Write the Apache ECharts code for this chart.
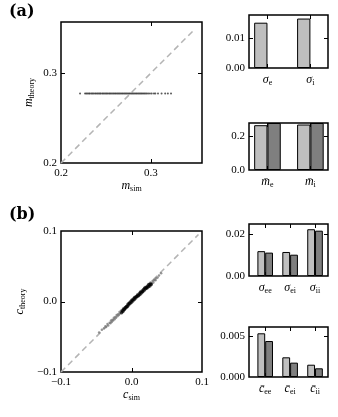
<!DOCTYPE html>
<html>
<head>
<meta charset="utf-8">
<script src="https://cdn.jsdelivr.net/npm/echarts@6/dist/echarts.min.js"></script>
<style>
html, body { margin: 0; padding: 0; background: #fff; }
#chart { width: 338px; height: 417px; }
</style>
</head>
<body>
<div id="chart"></div>
<script>
// ---- panel (a): mean rates ----
const mSimA = [0.2212, 0.2268, 0.2282, 0.2295, 0.2310, 0.2321, 0.2337, 0.2350, 0.2362, 0.2378,
  0.2390, 0.2404, 0.2417, 0.2431, 0.2442, 0.2458, 0.2470, 0.2483, 0.2497, 0.2509, 0.2522,
  0.2536, 0.2548, 0.2561, 0.2575, 0.2588, 0.2601, 0.2613, 0.2627, 0.2640, 0.2652, 0.2666,
  0.2679, 0.2691, 0.2705, 0.2718, 0.2730, 0.2744, 0.2757, 0.2769, 0.2783, 0.2796, 0.2808,
  0.2822, 0.2835, 0.2847, 0.2861, 0.2874, 0.2887, 0.2900, 0.2913, 0.2926, 0.2940, 0.2955,
  0.2971, 0.2990, 0.3010, 0.3035, 0.3050, 0.3080, 0.3120, 0.3160, 0.3190, 0.3225]
const mTheoryA = 0.2775
const diagA = [0.2, 0.348]

const sigmaCats = ['e', 'i']
const sigmaSim = [0.0153, 0.0167]
const sigmaTheory = ['-', '-']
const meanCats = ['e', 'i']
const meanSim = [0.265, 0.269]
const meanTheory = [0.278, 0.278]

// ---- panel (b): correlations ----
const cGrayB = [[-0.046, -0.044], [-0.042, -0.040], [-0.039, -0.038], [-0.037, -0.035], [-0.036, -0.036],
  [-0.034, -0.032], [-0.033, -0.034], [-0.031, -0.030], [-0.030, -0.031], [-0.029, -0.027],
  [-0.028, -0.029], [-0.027, -0.026], [-0.026, -0.027], [-0.025, -0.023], [-0.024, -0.025],
  [-0.023, -0.022], [-0.022, -0.023], [-0.021, -0.019], [-0.020, -0.021], [-0.019, -0.018],
  [-0.018, -0.019], [-0.017, -0.015], [-0.016, -0.017], [-0.015, -0.013], [-0.013, -0.015],
  [-0.012, -0.010], [-0.010, -0.012], [-0.008, -0.007], [-0.006, -0.008], [-0.004, -0.002],
  [0.000, 0.002], [0.004, 0.006], [0.008, 0.010], [0.012, 0.014], [0.016, 0.014], [0.018, 0.019],
  [0.020, 0.021], [0.022, 0.019], [0.024, 0.025], [0.026, 0.023], [0.027, 0.027], [0.029, 0.026],
  [0.030, 0.029], [0.031, 0.027], [0.032, 0.030], [0.033, 0.031], [0.034, 0.030], [0.035, 0.033],
  [0.037, 0.034], [0.039, 0.037], [0.042, 0.040]]
const cBlackB = [[-0.014, -0.016], [-0.013, -0.013], [-0.012, -0.014], [-0.011, -0.011], [-0.010, -0.011],
  [-0.009, -0.009], [-0.008, -0.009], [-0.007, -0.007], [-0.006, -0.007], [-0.005, -0.004],
  [-0.004, -0.005], [-0.003, -0.002], [-0.002, -0.003], [-0.001, 0.000], [0.000, -0.001],
  [0.001, 0.002], [0.002, 0.001], [0.003, 0.004], [0.004, 0.003], [0.005, 0.006], [0.006, 0.005],
  [0.007, 0.007], [0.008, 0.007], [0.009, 0.009], [0.010, 0.008], [0.011, 0.011], [0.012, 0.010],
  [0.013, 0.013], [0.014, 0.012], [0.015, 0.015], [0.016, 0.014], [0.017, 0.017], [0.018, 0.016],
  [0.019, 0.019], [0.020, 0.018], [0.021, 0.020], [0.022, 0.019], [0.023, 0.022], [0.024, 0.021],
  [0.025, 0.024], [0.026, 0.022], [0.027, 0.025], [0.028, 0.024]]
const diagB = [-0.1, 0.095]

const sigma2Cats = ['ee', 'ei', 'ii']
const sigma2Sim = [0.0119, 0.0115, 0.0224]
const sigma2Theory = [0.0112, 0.0102, 0.0217]
const cbarCats = ['ee', 'ei', 'ii']
const cbarSim = [0.00533, 0.0024, 0.0015]
const cbarTheory = [0.00439, 0.00175, 0.00106]

const FONT = 'Liberation Serif'
const LIGHT = '#bfbfbf'
const DARK = '#7f7f7f'
const rich = {
    i: { fontFamily: FONT, fontStyle: 'italic', fontSize: 12, lineHeight: 14, color: '#000' },
    s: { fontFamily: FONT, fontSize: 8, lineHeight: 8, verticalAlign: 'bottom', color: '#000' }
}
const minus = v => String(v).replace('-', '\u2212')

const grids = []
const xAxes = []
const yAxes = []
const series = []
const panels = []   // remembered for the inside tick marks

// one boxed panel
function addPanel(box, xa, ya) {
    const gi = grids.length
    grids.push(Object.assign({ show: true, borderColor: '#000', borderWidth: 1.5, containLabel: false }, box))
    const common = { gridIndex: gi, type: 'value', splitLine: { show: false }, axisTick: { show: false },
        axisLine: { show: false, onZero: false } }
    const xi = xAxes.length
    xAxes.push(Object.assign({}, common, {
        min: xa.min, max: xa.max, position: 'bottom',
        axisLabel: { customValues: xa.labels, margin: 5, fontFamily: FONT, fontSize: 11, color: '#000', formatter: xa.fmt, rich: rich },
        name: xa.name, nameLocation: 'middle', nameGap: xa.nameGap || 0,
        nameTextStyle: { rich: rich }
    }))
    const yi = yAxes.length
    yAxes.push(Object.assign({}, common, {
        min: ya.min, max: ya.max, position: 'left',
        axisLabel: { customValues: ya.labels, margin: 4, fontFamily: FONT, fontSize: 11, color: '#000', formatter: ya.fmt },
        name: ya.name, nameLocation: 'middle', nameRotate: 90, nameGap: ya.nameGap || 0,
        nameTextStyle: { rich: rich }
    }))
    panels.push({ gi: gi, box: box, xt: xa.ticks, yt: ya.ticks, ymin: ya.min, xmin: xa.min })
    return { xi: xi, yi: yi }
}

function barPanel(box, cats, sim, theory, xmin, xmax, ymax, yTick, dec, barW, mark) {
    const idx = cats.map((c, i) => i)
    const p = addPanel(box,
        { min: xmin, max: xmax, ticks: idx, labels: idx, fmt: v => '{i|' + mark + '}{s|' + cats[Math.round(v)] + '}' },
        { min: 0, max: ymax, ticks: [yTick], labels: [0, yTick], fmt: v => v.toFixed(dec) })
    const style = c => ({ color: c, borderColor: '#000', borderWidth: 1 })
    series.push({ type: 'bar', xAxisIndex: p.xi, yAxisIndex: p.yi, barWidth: barW, barGap: '0%', z: 3,
        itemStyle: style(LIGHT), data: sim.map((v, i) => [i, v]) })
    series.push({ type: 'bar', xAxisIndex: p.xi, yAxisIndex: p.yi, barWidth: barW, barGap: '0%', z: 3,
        itemStyle: style(DARK), data: theory.map((v, i) => [i, v]) })
}

// (a) scatter
let p = addPanel({ left: 61, top: 22, width: 141, height: 141 },
    { min: 0.2, max: 0.357, ticks: [0.3], labels: [0.2, 0.3], fmt: v => v.toFixed(1), name: '{i|m}{s|sim}', nameGap: 9 },
    { min: 0.2, max: 0.357, ticks: [0.3], labels: [0.2, 0.3], fmt: v => v.toFixed(1), name: '{i|m}{s|theory}', nameGap: 25 })
series.push({ type: 'line', xAxisIndex: p.xi, yAxisIndex: p.yi, symbol: 'none', z: 2,
    lineStyle: { color: '#b4b4b4', width: 1.5, type: [6, 4] }, data: diagA.map(v => [v, v]) })
series.push({ type: 'scatter', xAxisIndex: p.xi, yAxisIndex: p.yi, symbolSize: 2, z: 3,
    itemStyle: { color: '#333', opacity: 0.8 }, data: mSimA.map(v => [v, mTheoryA]) })

// (b) scatter
p = addPanel({ left: 61, top: 231, width: 141, height: 141 },
    { min: -0.1, max: 0.1, ticks: [0], labels: [-0.1, 0, 0.1], fmt: v => minus(v.toFixed(1)), name: '{i|c}{s|sim}', nameGap: 6 },
    { min: -0.1, max: 0.1, ticks: [0], labels: [-0.1, 0, 0.1], fmt: v => minus(v.toFixed(1)), name: '{i|c}{s|theory}', nameGap: 34 })
series.push({ type: 'line', xAxisIndex: p.xi, yAxisIndex: p.yi, symbol: 'none', z: 2,
    lineStyle: { color: '#b4b4b4', width: 1.5, type: [6, 4] }, data: diagB.map(v => [v, v]) })
series.push({ type: 'scatter', xAxisIndex: p.xi, yAxisIndex: p.yi, symbolSize: 2.5, z: 3,
    itemStyle: { color: '#7a7a7a', opacity: 0.8 }, data: cGrayB })
series.push({ type: 'scatter', xAxisIndex: p.xi, yAxisIndex: p.yi, symbolSize: 3.5, z: 4,
    itemStyle: { color: '#000', opacity: 0.7 }, data: cBlackB })

// bar panels
barPanel({ left: 249, top: 15, width: 79, height: 53 }, sigmaCats, sigmaSim, sigmaTheory, -0.43, 1.41, 0.0179, 0.01, 2, 13.3, 'σ')
barPanel({ left: 249, top: 123, width: 79, height: 47 }, meanCats, meanSim, meanTheory, -0.43, 1.41, 0.278, 0.2, 1, 13.3, 'm\u0304')
barPanel({ left: 249, top: 224, width: 79, height: 52 }, sigma2Cats, sigma2Sim, sigma2Theory, -0.65, 2.52, 0.0249, 0.02, 2, 7.8, 'σ')
barPanel({ left: 249, top: 327, width: 79, height: 50 }, cbarCats, cbarSim, cbarTheory, -0.65, 2.52, 0.0061, 0.005, 3, 7.8, 'c\u0304')

const myEcharts = echarts.init(document.getElementById('chart'))
myEcharts.setOption({
    animation: false,
    title: [
        { text: '(a)', left: 4, top: -1, textStyle: { fontFamily: 'DejaVu Serif', fontWeight: 'bold', fontSize: 16, color: '#000' } },
        { text: '(b)', left: 4, top: 202, textStyle: { fontFamily: 'DejaVu Serif', fontWeight: 'bold', fontSize: 16, color: '#000' } }
    ],
    grid: grids,
    xAxis: xAxes,
    yAxis: yAxes,
    series: series
})

// inside tick marks on all four sides, placed through the axes' own scales
const TL = 4
const ticks = []
panels.forEach(pn => {
    const b = pn.box
    const x0 = b.left, x1 = b.left + b.width, y0 = b.top, y1 = b.top + b.height
    const seg = (ax, ay, bx, by) => ticks.push({ type: 'line', z: 1, silent: true,
        shape: { x1: ax, y1: ay, x2: bx, y2: by }, style: { stroke: '#000', lineWidth: 1 } })
    pn.xt.forEach(v => {
        const px = Math.round(myEcharts.convertToPixel({ gridIndex: pn.gi }, [v, pn.ymin])[0]) + 0.5
        seg(px, y1, px, y1 - TL)
        seg(px, y0, px, y0 + TL)
    })
    pn.yt.forEach(v => {
        const py = Math.round(myEcharts.convertToPixel({ gridIndex: pn.gi }, [pn.xmin, v])[1]) + 0.5
        seg(x0, py, x0 + TL, py)
        seg(x1, py, x1 - TL, py)
    })
})
myEcharts.setOption({ graphic: ticks })
</script>
</body>
</html>
